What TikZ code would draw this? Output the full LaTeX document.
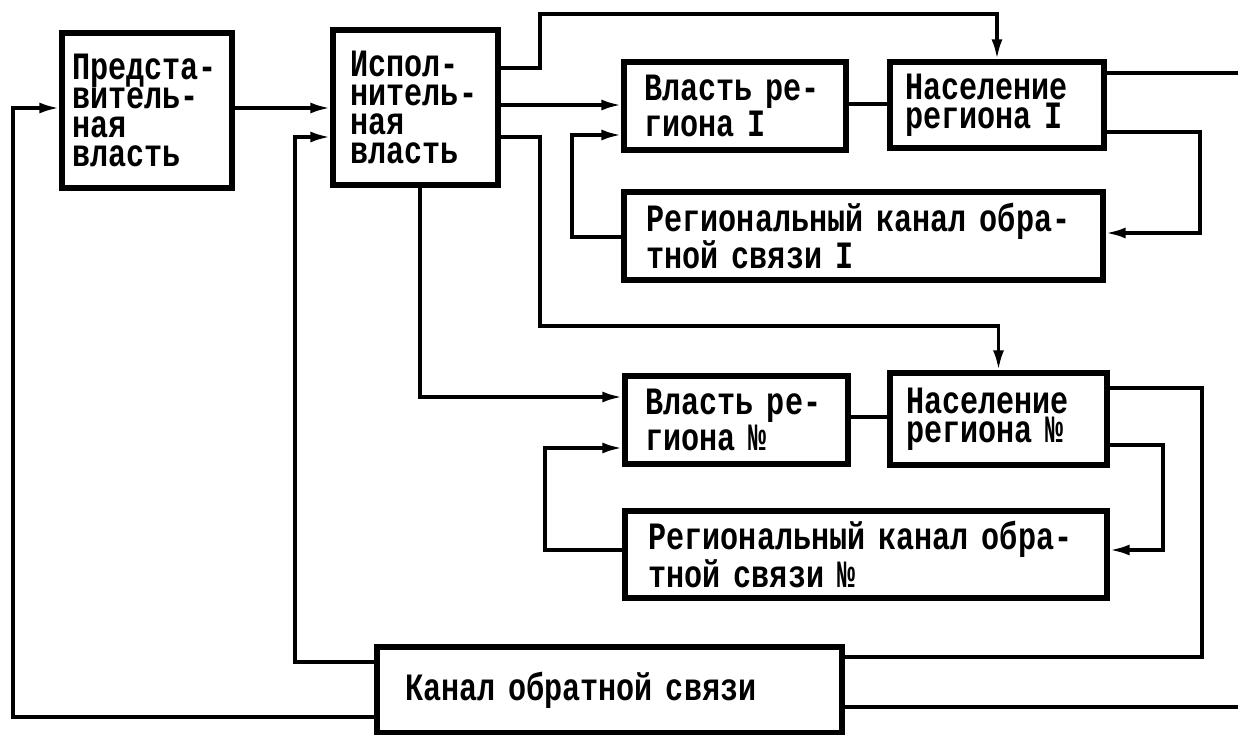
\documentclass[tikz,border=0pt]{standalone}
\usepackage{fontspec}
\newfontfamily\twfont[FakeStretch=0.78]{Liberation Mono}
\usetikzlibrary{arrows.meta}

\begin{document}
\begin{tikzpicture}[
blk/.style={
    draw,
    line width=3pt,
    inner xsep=0pt,
    inner ysep=0pt,
    align=left,
    font=\twfont\bfseries\fontsize{22}{16.5}\selectfont
},
lnk/.style={line width=2pt},
arr/.style={lnk,-{Latex[length=4mm,width=2.2mm]}}
]
\useasboundingbox (0,0) rectangle (24.76,-14.70);

%---------------- Centre ----------------
\node[blk,minimum width=3.4cm,minimum height=3.1cm,text width=3.0cm] (pred) at (2.94,-2.21) {Предста-\\витель-\\ная\\власть};
\node[blk,minimum width=3.3cm,minimum height=3.1cm,text width=2.6cm] (isp) at (8.31,-2.15) {Испол-\\нитель-\\ная\\власть};
\node[blk,minimum width=9.3cm,minimum height=1.72cm,text width=8.18cm] (kan) at (12.19,-13.80) {Канал обратной связи};

%---------------- Region I ----------------
\node[blk,minimum width=4.44cm,minimum height=1.76cm,text width=3.64cm] (vr1) at (14.70,-2.12) {Власть ре-\\гиона I};
\node[blk,minimum width=4.28cm,minimum height=1.72cm,text width=3.68cm] (nr1) at (19.94,-2.10) {Население\\региона I};
\node[blk,minimum width=9.58cm,minimum height=1.76cm,text width=8.68cm] (rk1) at (17.27,-4.72) {Региональный канал обра-\\тной связи I};

%---------------- Region N ----------------
\node[blk,minimum width=4.46cm,minimum height=1.76cm,text width=3.64cm] (vr2) at (14.73,-8.40) {Власть ре-\\гиона №};
\node[blk,minimum width=4.34cm,minimum height=1.84cm,text width=3.70cm] (nr2) at (19.97,-8.38) {Население\\региона №};
\node[blk,minimum width=9.64cm,minimum height=1.74cm,text width=8.70cm] (rk2) at (17.32,-11.09) {Региональный канал обра-\\тной связи №};

% centre links
\draw[arr] (pred.east |- 0,-2.16) -- (isp.west |- 0,-2.16);
\draw[arr] (kan.west |- 0,-14.34) -- (0.26,-14.34) -- (0.26,-2.16) -- (pred.west |- 0,-2.16);
\draw[arr] (kan.west |- 0,-13.24) -| (5.90,-2.74) -- (isp.west |- 0,-2.74);
\draw[arr] (isp.east |- 0,-1.36) -- (10.80,-1.36) -- (10.80,-0.28) -| (nr1.north);
\draw[arr] (isp.east |- 0,-2.10) -- (vr1.west |- 0,-2.10);
\draw[arr] (isp.east |- 0,-2.74) -- (10.80,-2.74) -- (10.80,-6.52) -| (nr2.north);
\draw[arr] (isp.south -| 8.40,0) |- (vr2.west |- 0,-7.94);

% region I links
\draw[lnk] (vr1.east |- 0,-2.08) -- (nr1.west |- 0,-2.08);
\draw[arr] (nr1.east |- 0,-2.64) -| (24.00,-4.66) -- (rk1.east |- 0,-4.66);
\draw[arr] (rk1.west |- 0,-4.74) -| (11.44,-2.70) -- (vr1.west |- 0,-2.70);
\draw[lnk] (nr1.east |- 0,-1.46) -| (24.82,-14.14) -- (kan.east |- 0,-14.14);

% region N links
\draw[lnk] (vr2.east |- 0,-8.34) -- (nr2.west |- 0,-8.34);
\draw[arr] (nr2.east |- 0,-8.90) -| (23.26,-11.00) -- (rk2.east |- 0,-11.00);
\draw[arr] (rk2.west |- 0,-11.00) -| (10.90,-8.96) -- (vr2.west |- 0,-8.96);
\draw[lnk] (nr2.east |- 0,-7.76) -| (24.04,-13.14) -- (kan.east |- 0,-13.14);

\end{tikzpicture}
\end{document}
